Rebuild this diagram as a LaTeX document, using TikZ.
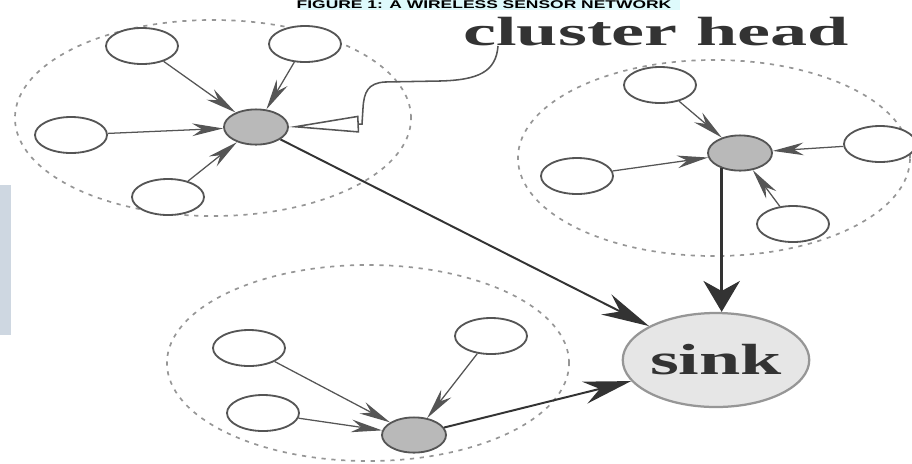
\documentclass[tikz,border=0pt]{standalone}
\usepackage{fontspec}
\setmainfont{Liberation Serif}
\newfontfamily\titlefont{Liberation Sans}
\usepackage{graphicx}
\definecolor{ringgray}{RGB}{150, 150, 150}
\definecolor{headgray}{RGB}{185, 185, 185}
\definecolor{sinkgray}{RGB}{230, 230, 230}
\definecolor{edgegray}{RGB}{85, 85, 85}
\definecolor{titlecyan}{RGB}{222, 250, 252}
\definecolor{stripgray}{RGB}{206, 215, 225}
\usetikzlibrary{shapes.geometric, arrows.meta, positioning}
\tikzset{
  sensornode/.style={ellipse, draw=edgegray, line width=1.3pt, fill=white, minimum width=1.8cm, minimum height=0.9cm, inner sep=0pt},
  headnode/.style={sensornode, fill=headgray, minimum width=1.6cm, minimum height=0.88cm},
  sinknode/.style={ellipse, draw=ringgray, line width=1.6pt, fill=sinkgray, minimum width=4.5cm, minimum height=2.35cm, inner sep=0pt, text=black!80, font=\fontsize{31}{31}\selectfont\bfseries},
  clusterring/.style={ellipse, draw=ringgray, line width=1.2pt, dash pattern=on 3pt off 4pt, minimum width=9.9cm, minimum height=4.9cm},
  feedarrow/.style={-{Stealth[length=22pt, width=9pt, inset=7pt]}, line width=0.9pt, edgegray},
  sinkarrow/.style={-{Stealth[length=34pt, width=16pt]}, line width=1.4pt, black!80},
  pointerline/.style={-{Triangle[open, length=1.75cm, width=0.42cm]}, line width=1.1pt, edgegray},
  bigword/.style={font=\fontsize{29}{29}\selectfont\bfseries, text=black!80, inner sep=0pt},
  titletext/.style={font=\titlefont\bfseries\fontsize{8}{8}\selectfont, inner sep=0pt},
}

\begin{document}
\begin{tikzpicture}[x=0.025cm, y=-0.025cm]
  \useasboundingbox (0,0) rectangle (912,463);
  \clip (0,0) rectangle (912,463);
  % page leftovers
  \fill[titlecyan] (300,0) rectangle (680,10);
  \fill[stripgray] (0,185) rectangle (11,335);
  \node[titletext, anchor=base] (title) at (484,8.5) {\scalebox{1.55}[1]{FIGURE 1: A WIRELESS SENSOR NETWORK}};

  % clusters
  \node[clusterring] (grpA) at (213,118) {};
  \node[clusterring, minimum width=9.8cm] (grpB) at (714,158) {};
  \node[clusterring, minimum width=10.05cm] (grpC) at (368,363) {};

  % sensors and heads
  \node[sensornode] (a1) at (142,46) {};
  \node[sensornode] (a2) at (305,44) {};
  \node[sensornode] (a3) at (71,135) {};
  \node[sensornode] (a4) at (168,197) {};
  \node[headnode] (ha) at (256,127) {};

  \node[sensornode] (b1) at (660,85) {};
  \node[sensornode] (b2) at (880,144) {};
  \node[sensornode] (b3) at (577,176) {};
  \node[sensornode] (b4) at (793,224) {};
  \node[headnode] (hb) at (740,153) {};

  \node[sensornode] (c1) at (249,348) {};
  \node[sensornode] (c2) at (263,413) {};
  \node[sensornode] (c3) at (491,336) {};
  \node[headnode] (hc) at (414,435) {};

  \node[sinknode] (sink) at (716,360) {\scalebox{1.7}[1]{sink}};

  % members to heads
  \foreach \s in {a1,a2,a3,a4} \draw[feedarrow] (\s) -- (ha);
  \foreach \s in {b1,b2,b3,b4} \draw[feedarrow] (\s) -- (hb);
  \foreach \s in {c1,c2,c3} \draw[feedarrow] (\s) -- (hc);

  % heads to sink
  \draw[sinkarrow] (ha) -- (sink);
  \draw[sinkarrow] (hc) -- (sink);
  \draw[sinkarrow, line width=1.8pt, -{Stealth[length=22pt, width=26pt]}] (hb.220) -- (hb.220 |- sink.north);

  % label
  \node[bigword, anchor=base west] (chlabel) at (463,45) {\scalebox{1.82}[1]{cluster head}};
  \coordinate (ptr) at (498,46);
  \draw[pointerline] (ptr) .. controls (496,72) and (478,80) .. (440,81) -- (385,82)
    .. controls (368,83) and (364,92) .. (363,108) -- (362,124) -- (ha.east);
\end{tikzpicture}
\end{document}
